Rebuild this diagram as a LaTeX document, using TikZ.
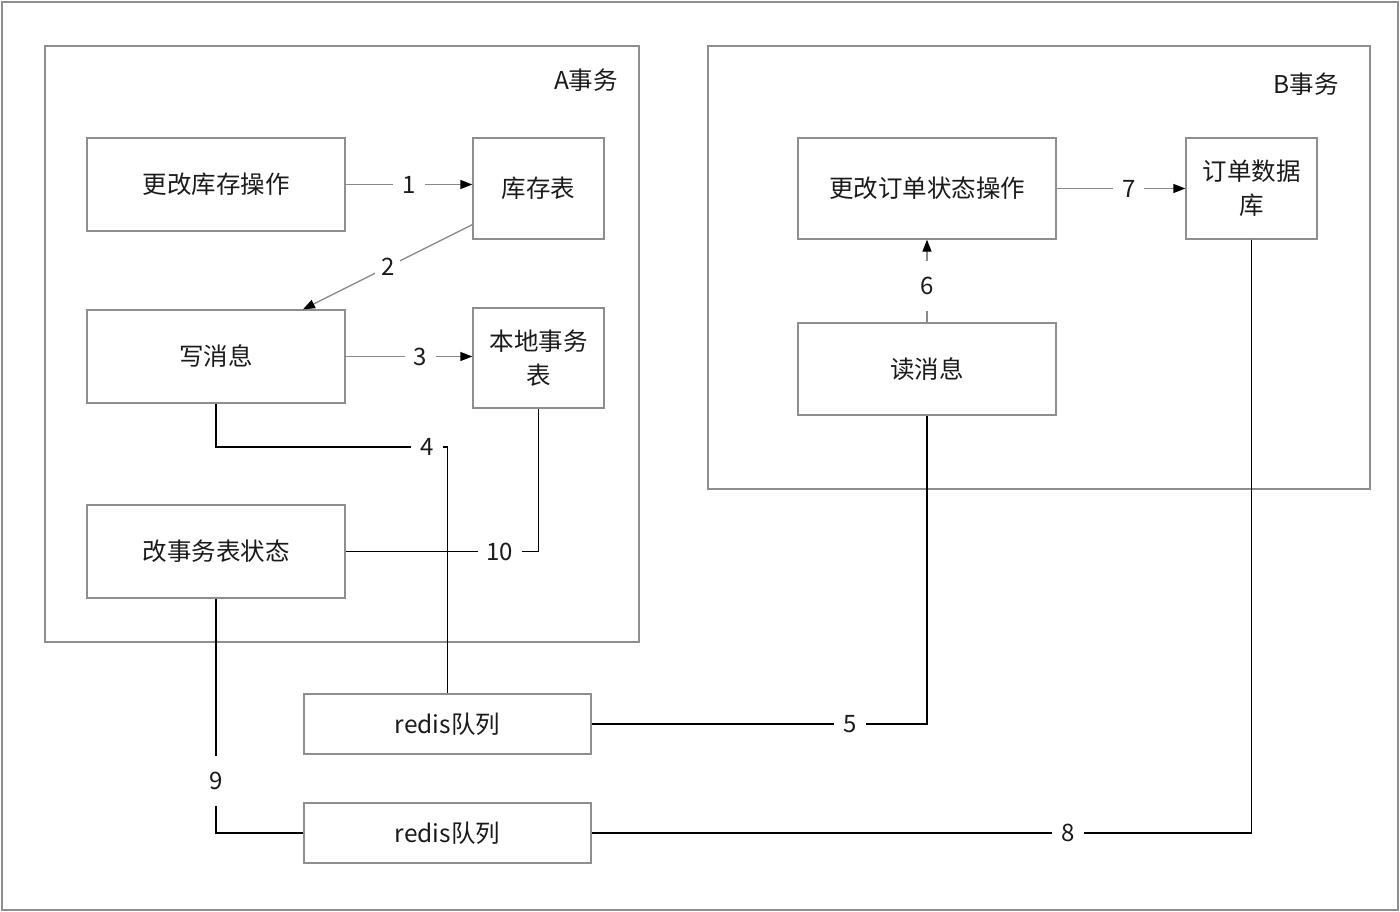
\documentclass[tikz,border=0pt]{standalone}
\usepackage{fontspec}
\setmainfont{Noto Sans CJK SC}
\usetikzlibrary{arrows.meta}
\definecolor{boxgray}{HTML}{8E8E8E}
\definecolor{linegray}{HTML}{8A8A8A}
\definecolor{txt}{HTML}{1A1A1A}
\tikzset{
  box/.style={draw=boxgray, line width=1.3pt, rectangle, align=center, text=txt, font=\fontsize{24.5}{34}\selectfont, inner sep=0pt},
  frame/.style={draw=boxgray, line width=1.3pt},
  lbl/.style={fill=white, text=txt, font=\fontsize{24}{26}\selectfont, inner xsep=9pt, inner ysep=16pt},
  conn/.style={draw=black, line width=1.3pt},
  gconn/.style={draw=linegray, line width=1.3pt},
  tip/.style={-{Triangle[length=12pt,width=9pt,color=black]}},
}
\begin{document}
\begin{tikzpicture}[x=1pt, y=-1pt]
\useasboundingbox (0,0) rectangle (1400,912);
\draw[frame] (2,2) rectangle (1398,910);
\draw[frame] (45,46) rectangle (639,642);
\draw[frame] (708,46) rectangle (1370,489);
\node[text=txt, font=\fontsize{24.5}{26}\selectfont] (la) at (586,80) {A事务};
\node[text=txt, font=\fontsize{24.5}{26}\selectfont] (lb) at (1306,84) {B事务};

\node[box, minimum width=258pt, minimum height=93pt] (k1) at (216,184.5) {更改库存操作};
\node[box, minimum width=131pt, minimum height=101pt] (kct) at (538.5,188.5) {库存表};
\node[box, minimum width=258pt, minimum height=93pt] (wx) at (216,356.5) {写消息};
\node[box, minimum width=131pt, minimum height=100pt] (bd) at (538.5,358) {本地事务\\表};
\node[box, minimum width=258pt, minimum height=93pt] (gs) at (216,551.5) {改事务表状态};
\node[box, minimum width=258pt, minimum height=101pt] (gd) at (927,188.5) {更改订单状态操作};
\node[box, minimum width=131pt, minimum height=101pt] (dd) at (1251.5,188.5) {订单数据\\库};
\node[box, minimum width=258pt, minimum height=92pt] (dx) at (927,369) {读消息};
\node[box, minimum width=287pt, minimum height=60pt] (r1) at (447.5,724) {redis队列};
\node[box, minimum width=287pt, minimum height=60pt] (r2) at (447.5,833) {redis队列};

\coordinate (c4) at (447.5,447);

% 1
\draw[gconn, tip] (k1.east) -- node[lbl, pos=0.5] {1} (k1.east -| kct.west);
% 2
\draw[gconn, tip] ([yshift=15pt]kct.south west) -- node[lbl, pos=0.5, inner ysep=4pt, inner xsep=6pt] {2} ([xshift=87pt]wx.north);
% 3
\draw[gconn, tip] (wx.east) -- node[lbl, pos=0.59] {3} (wx.east -| bd.west);
% 4
\draw[conn] (wx.south) |- node[lbl, pos=0.956] {4} (c4) -- (r1.north);
% 10
\draw[conn] (bd.south) |- node[lbl, pos=0.6] {10} (gs.east);
% 5
\draw[conn] (dx.south) |- node[lbl, pos=0.615] {5} (r1.east);
% 6
\draw[gconn, tip] (dx.north) -- node[lbl, pos=0.44] {6} (gd.south);
% 7
\draw[gconn, tip] (gd.east) -- node[lbl, pos=0.56] {7} (dd.west);
% 8
\draw[conn] (dd.south) |- node[lbl, pos=0.639] {8} (r2.east);
% 9
\draw[conn] (gs.south) |- node[lbl, pos=0.389] {9} (r2.west);
\end{tikzpicture}
\end{document}
